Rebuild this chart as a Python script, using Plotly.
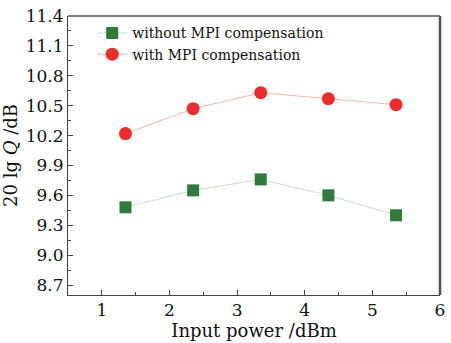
import plotly.graph_objects as go

x_power = [1.35, 2.35, 3.35, 4.35, 5.35]
q_without = [9.48, 9.65, 9.76, 9.60, 9.40]
q_with = [10.22, 10.47, 10.63, 10.57, 10.51]
names = ["without MPI compensation", "with MPI compensation"]

FONT = "DejaVu Serif"

fig = go.Figure()
fig.add_trace(go.Scatter(
    x=x_power, y=q_without, mode="lines+markers", name=names[0],
    line=dict(color="#c8dfc8", width=1),
    marker=dict(symbol="square", size=12, color="#2e7b3c"),
))
fig.add_trace(go.Scatter(
    x=x_power, y=q_with, mode="lines+markers", name=names[1],
    line=dict(color="#f5b8b0", width=1),
    marker=dict(symbol="circle", size=13, color="#ee2a2a"),
))

fig.update_layout(
    width=451, height=343,
    margin=dict(l=68, r=6, t=15, b=48),
    paper_bgcolor="white", plot_bgcolor="white",
    font=dict(family=FONT, color="#111", size=17),
    showlegend=True,
    legend=dict(x=0.065, y=0.995, xanchor="left", yanchor="top",
                bgcolor="rgba(0,0,0,0)", font=dict(size=14, family=FONT),
                tracegroupgap=0, itemwidth=30),
    xaxis=dict(
        range=[0.5, 6], tickmode="array", tickvals=[1, 2, 3, 4, 5, 6],
        ticks="inside", ticklen=5, tickcolor="#444",
        minor=dict(ticks="inside", ticklen=3, dtick=0.5, tick0=0, tickcolor="#444"),
        showline=True, linecolor="#444", linewidth=1, showgrid=False, zeroline=False,
        title=dict(text="Input power /dBm", font=dict(size=18), standoff=4),
        tickfont=dict(size=17),
    ),
    yaxis=dict(
        range=[8.6, 11.4], tickmode="array",
        tickvals=[8.7, 9.0, 9.3, 9.6, 9.9, 10.2, 10.5, 10.8, 11.1, 11.4],
        ticktext=["8.7", "9.0", "9.3", "9.6", "9.9", "10.2", "10.5", "10.8", "11.1", "11.4"],
        ticks="inside", ticklen=5, tickcolor="#444",
        minor=dict(ticks="inside", ticklen=3, dtick=0.15, tick0=8.7, tickcolor="#444"),
        showline=True, linecolor="#444", linewidth=1, showgrid=False, zeroline=False,
        title=dict(text="20 lg <i>Q</i> /dB", font=dict(size=18), standoff=4),
        tickfont=dict(size=17),
    ),
    shapes=[
        dict(type="line", xref="paper", yref="paper", x0=0, x1=1, y0=1, y1=1,
             line=dict(color="#555", width=1.5)),
        dict(type="line", xref="paper", yref="paper", x0=1, x1=1, y0=0, y1=1,
             line=dict(color="#555", width=2.5)),
    ],
)

fig.write_html("out.html")
